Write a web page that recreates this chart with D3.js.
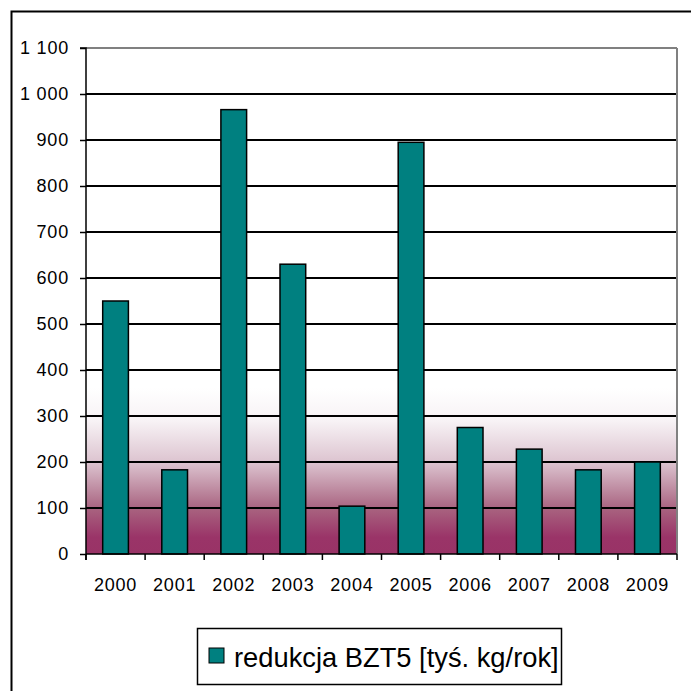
<!DOCTYPE html>
<html><head><meta charset="utf-8">
<script src="https://cdn.jsdelivr.net/npm/d3@7"></script>
<style>body{margin:0;background:#fff}svg{display:block;font-family:"Liberation Sans",Arial,sans-serif}</style>
</head><body>
<svg id="c" width="691" height="691"></svg>
<script>
const years = ["2000","2001","2002","2003","2004","2005","2006","2007","2008","2009"];
const values = [550, 183, 966, 630, 104, 895, 275, 228, 183, 200];
const yTicks = [0,100,200,300,400,500,600,700,800,900,1000,1100];
const seriesName = "redukcja BZT5 [tyś. kg/rok]";

const svg = d3.select("#c");
const L = 86, R = 677, T = 48, B = 554;
const x = d3.scaleBand().domain(years).range([L, R]).paddingInner(0.565).paddingOuter(0.2825);
const xb = d3.scaleBand().domain(years).range([L, R]);
const y = d3.scaleLinear().domain([0, 1100]).range([B, T]);

// outer border
svg.append("rect").attr("x", 11.5).attr("y", 11.5).attr("width", 700).attr("height", 700)
  .attr("fill", "none").attr("stroke", "#000").attr("stroke-width", 2);

// gradient background
const defs = svg.append("defs");
const g = defs.append("linearGradient").attr("id", "bg").attr("gradientUnits", "userSpaceOnUse")
  .attr("x1", 0).attr("x2", 0).attr("y1", 388).attr("y2", B);
[[0, "#ffffff"], [0.2, "#f7f2f5"], [0.45, "#dcc3cf"], [0.73, "#a8627f"], [0.9, "#9a3468"], [1, "#993366"]]
  .forEach(([o, c]) => g.append("stop").attr("offset", o).attr("stop-color", c));
svg.append("rect").attr("x", L).attr("y", 388).attr("width", R - L).attr("height", B - 388).attr("fill", "url(#bg)");

// gridlines
svg.append("g").selectAll("line").data(yTicks.filter(d => d > 0)).join("line")
  .attr("x1", L).attr("x2", R).attr("y1", d => y(d)).attr("y2", d => y(d))
  .attr("stroke", d => d === 1100 ? "#808080" : "#000").attr("stroke-width", 2);
// right border of plot
svg.append("line").attr("x1", R).attr("x2", R).attr("y1", T).attr("y2", B)
  .attr("stroke", "#808080").attr("stroke-width", 2);

// bars
svg.append("g").selectAll("rect").data(values).join("rect")
  .attr("x", (d, i) => x(years[i])).attr("width", x.bandwidth())
  .attr("y", d => y(d)).attr("height", d => B - y(d))
  .attr("fill", "#008080").attr("stroke", "#000").attr("stroke-width", 1.5);

// y axis
const ya = svg.append("g").attr("transform", `translate(${L},0)`)
  .call(d3.axisLeft(y).tickValues(yTicks).tickSize(6).tickPadding(11)
    .tickFormat(d => d3.format(",")(d).replace(/,/g, " ")));
ya.attr("font-size", null).attr("font-family", null);
ya.select(".domain").attr("stroke", "#000").attr("stroke-width", 1.5).attr("d", `M0,${B + 6}V${T}H-6`);
ya.selectAll(".tick line").attr("stroke", "#000").attr("stroke-width", 1.5);
ya.selectAll("text").attr("font-size", 18).attr("letter-spacing", 0.8).attr("fill", "#000");

// x axis
const xa = svg.append("g").attr("transform", `translate(0,${B})`);
xa.append("line").attr("x1", L).attr("x2", R).attr("y1", 0).attr("y2", 0).attr("stroke", "#000").attr("stroke-width", 1.5);
xa.selectAll("line.t").data(years.concat(["end"])).join("line").attr("class", "t")
  .attr("x1", (d, i) => L + i * xb.step()).attr("x2", (d, i) => L + i * xb.step())
  .attr("y1", 0).attr("y2", 6).attr("stroke", "#000").attr("stroke-width", 1.5);
xa.selectAll("text").data(years).join("text")
  .attr("x", d => xb(d) + xb.bandwidth() / 2).attr("y", 37)
  .attr("text-anchor", "middle").attr("font-size", 18).attr("letter-spacing", 0.8)
  .attr("fill", "#000").text(d => d);

// legend
const lg = svg.append("g");
lg.append("rect").attr("x", 197.5).attr("y", 628.5).attr("width", 364).attr("height", 56)
  .attr("fill", "#fff").attr("stroke", "#000").attr("stroke-width", 1.5);
lg.append("rect").attr("x", 209).attr("y", 648).attr("width", 15).attr("height", 15)
  .attr("fill", "#008080").attr("stroke", "#000").attr("stroke-width", 1);
lg.append("text").attr("x", 234).attr("y", 667).attr("font-size", 27.3).attr("fill", "#000").text(seriesName);
</script>
</body></html>
